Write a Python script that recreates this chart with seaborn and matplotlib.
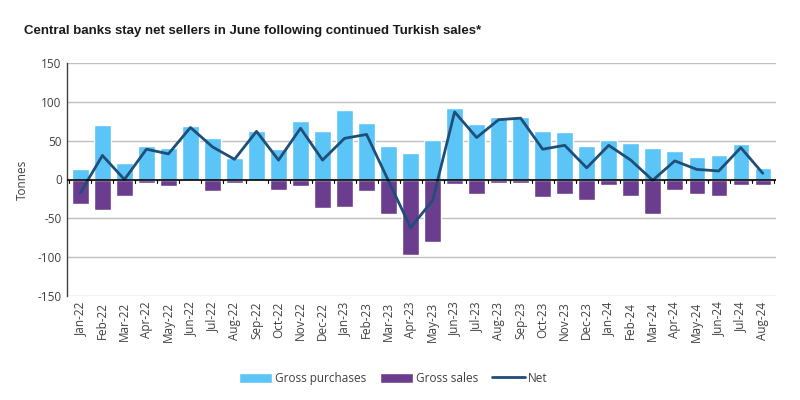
import pandas as pd
import matplotlib
matplotlib.use("Agg")
import matplotlib.pyplot as plt
from matplotlib import font_manager
import seaborn as sns

months = ["Jan-22", "Feb-22", "Mar-22", "Apr-22", "May-22", "Jun-22", "Jul-22", "Aug-22",
          "Sep-22", "Oct-22", "Nov-22", "Dec-22", "Jan-23", "Feb-23", "Mar-23", "Apr-23",
          "May-23", "Jun-23", "Jul-23", "Aug-23", "Sep-23", "Oct-23", "Nov-23", "Dec-23",
          "Jan-24", "Feb-24", "Mar-24", "Apr-24", "May-24", "Jun-24", "Jul-24", "Aug-24"]
gross_purchases = [14, 70, 21, 43, 40, 69, 54, 28, 62, 39, 75, 62, 89, 73, 43, 34,
                   51, 92, 72, 81, 81, 62, 61, 43, 51, 47, 40, 37, 29, 32, 46, 15]
gross_sales = [-31, -39, -21, -5, -9, -2, -15, -5, -2, -14, -9, -37, -36, -15, -45, -97,
               -80, -6, -19, -4, -4, -23, -19, -27, -7, -21, -44, -14, -19, -21, -7, -7]
net = [-17, 31, 0, 39, 33, 67, 42, 26, 62, 25, 66, 25, 53, 58, -2, -62,
       -27, 87, 54, 77, 79, 39, 44, 15, 44, 25, -1, 24, 13, 11, 41, 8]

df = pd.DataFrame({"month": months, "purchases": gross_purchases,
                   "sales": gross_sales, "net": net})

sns.set_theme(style="white")
plt.rcParams["font.family"] = ["Open Sans", "DejaVu Sans"]
plt.rcParams["axes.unicode_minus"] = False

blue = "#5BC5F8"
purple = "#6A3D8E"
navy = "#1F4E79"

fig = plt.figure(figsize=(8, 4), dpi=100)
ax = fig.add_axes([0.084, 0.26, 0.886, 0.5825])

sns.barplot(data=df, x="month", y="purchases", color=blue, width=0.75,
            saturation=1, ax=ax, label="Gross purchases")
sns.barplot(data=df, x="month", y="sales", color=purple, width=0.75,
            saturation=1, ax=ax, label="Gross sales")
sns.lineplot(data=df, x="month", y="net", color=navy, linewidth=2, sort=False,
             ax=ax, label="Net")

ax.set_ylim(-150, 150)
ax.set_xlim(-0.6, len(months) - 0.4)
ax.set_yticks(range(-150, 151, 50))
ax.yaxis.grid(True, color="#BFBFBF", linewidth=1)
ax.set_axisbelow(True)
for s in ["top", "right", "bottom"]:
    ax.spines[s].set_visible(False)
ax.spines["left"].set_color("#404040")
ax.spines["left"].set_linewidth(1)

# zero line with small ticks between months
ax.axhline(0, color="black", linewidth=1.2, zorder=3)
for i in range(len(months) + 1):
    ax.plot([i - 0.5, i - 0.5], [0, -4], color="black", linewidth=0.8, zorder=3)

ax.tick_params(axis="x", length=0, pad=4, labelsize=8.5, labelcolor="#404040", rotation=90)
ax.tick_params(axis="y", length=0, pad=4, labelsize=8.5, labelcolor="#404040")
ax.set_xlabel("")
ax.set_ylabel("Tonnes", fontsize=8.5, color="#404040", labelpad=6)

names = {f.name for f in font_manager.fontManager.ttflist}
if "Liberation Sans Narrow" in names:
    tfam, tsize = "Liberation Sans Narrow", 10.5
else:
    tfam, tsize = "Liberation Sans", 9.5
fig.text(0.03, 0.915, "Central banks stay net sellers in June following continued Turkish sales*",
         fontsize=tsize, fontweight="bold", family=tfam, color="#1a1a1a")

handles, labels = ax.get_legend_handles_labels()
order = [labels.index(l) for l in ["Gross purchases", "Gross sales", "Net"]]
ax.legend([handles[i] for i in order], [labels[i] for i in order],
          loc="upper center", bbox_to_anchor=(0.46, -0.28), ncol=3, frameon=False,
          fontsize=8.5, handlelength=2.8, handleheight=1.0, columnspacing=1.2,
          handletextpad=0.2, labelcolor="#404040")

fig.savefig("out.png", dpi=100)
